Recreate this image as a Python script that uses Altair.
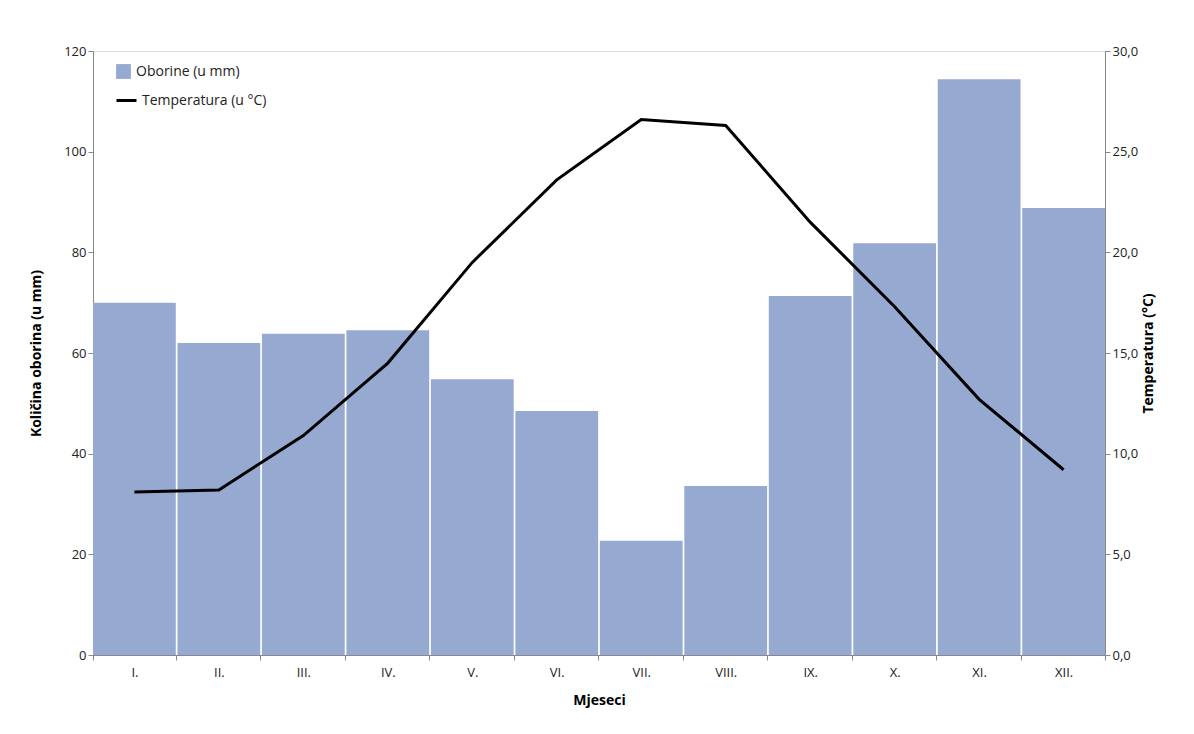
import pandas as pd
import altair as alt

months = ["I.", "II.", "III.", "IV.", "V.", "VI.", "VII.", "VIII.", "IX.", "X.", "XI.", "XII."]
oborine = [70.0, 62.0, 63.8, 64.5, 54.8, 48.5, 22.7, 33.6, 71.3, 81.8, 114.4, 88.8]
temperatura = [8.1, 8.2, 10.9, 14.5, 19.5, 23.6, 26.6, 26.3, 21.5, 17.3, 12.7, 9.2]

df = pd.DataFrame({"Mjesec": months, "Oborine": oborine, "Temperatura": temperatura,
                   "b": "Oborine (u mm)", "l": "Temperatura (u °C)"})

font = "Open Sans"
x = alt.X("Mjesec:N", sort=months, title="Mjeseci",
          scale=alt.Scale(paddingInner=0.02, paddingOuter=0),
          axis=alt.Axis(labelAngle=0, tickBand="extent", domainColor="#888", tickColor="#888",
                        labelFontSize=13, titleFontSize=14, titleFontWeight="bold",
                        labelPadding=6, titlePadding=14, labelColor="#222"))

bars = alt.Chart(df).mark_bar(color="#95A9D1").encode(
    x=x,
    y=alt.Y("Oborine:Q", title="Količina oborina (u mm)",
            scale=alt.Scale(domain=[0, 120]),
            axis=alt.Axis(values=[0, 20, 40, 60, 80, 100, 120], grid=False, domainColor="#888",
                          tickColor="#888", labelFontSize=13, titleFontSize=14,
                          titleFontWeight="bold", titlePadding=20, labelColor="#222")),
    color=alt.Color("b:N", scale=alt.Scale(range=["#95A9D1"]),
                    legend=alt.Legend(title=None, orient="none", legendX=22, legendY=12,
                                      symbolType="square", symbolSize=220, labelFontSize=14,
                                      labelFont=font, labelColor="#222")),
)

line = alt.Chart(df).mark_line(color="black", strokeWidth=3).encode(
    x=x,
    y=alt.Y("Temperatura:Q", title="Temperatura (°C)",
            scale=alt.Scale(domain=[0, 30]),
            axis=alt.Axis(orient="right", values=[0, 5, 10, 15, 20, 25, 30], grid=False,
                          labelExpr="replace(format(datum.value, '.1f'), '.', ',')",
                          domainColor="#888", tickColor="#888", labelFontSize=13,
                          titleFontSize=14, titleFontWeight="bold", titlePadding=18,
                          titleAngle=270, labelColor="#222")),
    stroke=alt.Stroke("l:N", scale=alt.Scale(range=["black"]),
                      legend=alt.Legend(title=None, orient="none", legendX=22, legendY=38,
                                        symbolType="stroke", symbolStrokeWidth=3, symbolSize=400,
                                        labelFontSize=14, labelFont=font, labelColor="#222")),
)

chart = alt.layer(bars, line).resolve_scale(y="independent", color="independent").properties(
    width=1012, height=604,
    padding={"left": 85, "top": 43, "right": 80, "bottom": 70},
    autosize=alt.AutoSizeParams(type="none"),
).configure_view(stroke="transparent", strokeWidth=0).configure(font=font)

chart.save("out.html", embed_options={"renderer": "svg", "actions": False})
